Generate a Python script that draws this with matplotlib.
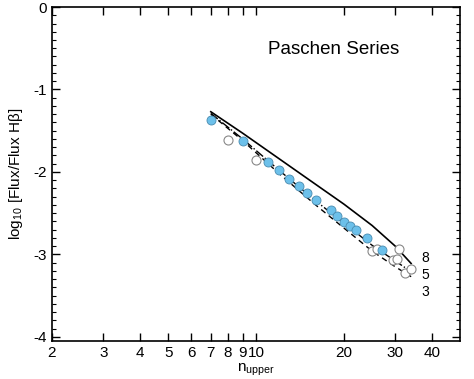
import numpy as np
import matplotlib.pyplot as plt
from matplotlib.ticker import FixedLocator, MultipleLocator, NullFormatter

plt.rcParams['font.family'] = ['Liberation Sans', 'DejaVu Sans']
plt.rcParams['mathtext.fontset'] = 'custom'
plt.rcParams['mathtext.rm'] = 'Liberation Sans'
plt.rcParams['mathtext.it'] = 'Liberation Sans'
plt.rcParams['axes.unicode_minus'] = False

# observed lines (filled) and blended / uncertain lines (open)
n_filled = [7, 9, 11, 12, 13, 14, 15, 16, 18, 19, 20, 21, 22, 24, 27]
f_filled = [-1.37, -1.62, -1.88, -1.98, -2.08, -2.17, -2.26, -2.34,
            -2.46, -2.54, -2.61, -2.66, -2.71, -2.80, -2.95]
n_open = [8, 10, 25, 26, 29.5, 30.5, 31, 32.5, 34]
f_open = [-1.61, -1.86, -2.96, -2.94, -3.07, -3.05, -2.93, -3.22, -3.18]

# model curves for three densities
n_model = [7, 9, 12, 16, 20, 25, 30, 34]
model_8 = [-1.27, -1.53, -1.84, -2.15, -2.39, -2.65, -2.90, -3.11]
model_5 = [-1.29, -1.60, -1.98, -2.35, -2.62, -2.89, -3.08, -3.21]
model_3 = [-1.30, -1.62, -2.02, -2.40, -2.68, -2.96, -3.15, -3.27]

xticks = [2, 3, 4, 5, 6, 7, 8, 9, 10, 20, 30, 40]
xticklabels = ['2', '3', '4', '5', '6', '7', '8', '9', '10', '20', '30', '40']

fig = plt.figure(figsize=(4.74, 3.79), dpi=100)
ax = fig.add_axes([0.1097, 0.1003, 0.8608, 0.8812])

ax.plot(n_model, model_8, '-', color='black', lw=1.2)
ax.plot(n_model, model_5, '-.', color='black', lw=1.0)
ax.plot(n_model, model_3, '--', color='black', lw=1.0, dashes=(4, 3))

ax.plot(n_open, f_open, 'o', mfc='white', mec='#888888', mew=0.8, ms=6.5)
ax.plot(n_filled, f_filled, 'o', mfc='#6cc0ea', mec='#4a8cb0', mew=0.6, ms=6.5)

ax.text(38, -3.04, '8', fontsize=10, ha='center', va='center')
ax.text(38, -3.25, '5', fontsize=10, ha='center', va='center')
ax.text(38, -3.45, '3', fontsize=10, ha='center', va='center')
ax.text(0.53, 0.872, 'Paschen Series', transform=ax.transAxes, fontsize=13.5,
        ha='left', va='center')

ax.set_xscale('log')
ax.set_xlim(2, 50)
ax.set_ylim(-4.05, 0)
ax.xaxis.set_major_locator(FixedLocator(xticks))
ax.set_xticklabels(xticklabels)
ax.xaxis.set_minor_formatter(NullFormatter())
ax.xaxis.set_minor_locator(FixedLocator([]))
ax.yaxis.set_major_locator(MultipleLocator(1))
ax.yaxis.set_minor_locator(MultipleLocator(0.1))

ax.tick_params(which='both', direction='in', top=True, right=True, labelsize=11)
ax.tick_params(which='major', length=6, width=1)
ax.tick_params(which='minor', length=3, width=0.8)
for s in ax.spines.values():
    s.set_linewidth(1.2)

ax.set_xlabel(r'n$_{\rm upper}$', fontsize=11, labelpad=1)
ax.set_ylabel(r'log$_{\rm 10}$ [Flux/Flux H$\rm \beta$]', fontsize=11, labelpad=6)

fig.savefig('out.png', dpi=100)
